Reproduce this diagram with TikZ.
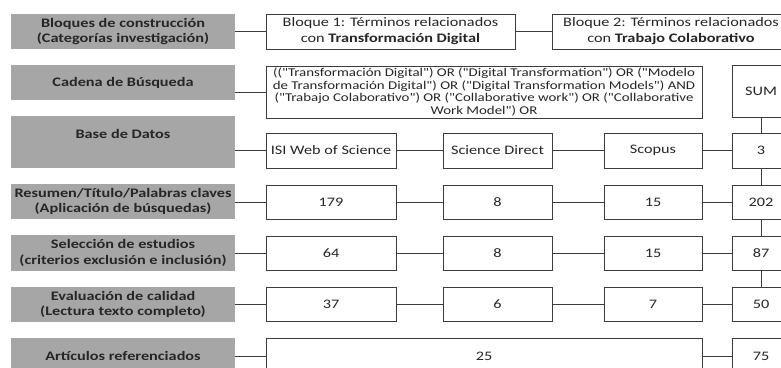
\documentclass[tikz,border=0pt]{standalone}
\usepackage{fontspec}
\setmainfont{Carlito}
\newfontfamily\wfont[FakeStretch=1.25]{Carlito}
\definecolor{grayfill}{HTML}{A6A6A6}
\definecolor{edge}{HTML}{3C3C3C}
\definecolor{txt}{HTML}{262626}
\begin{document}
\begin{tikzpicture}[x=1pt,y=-1pt,
  lab/.style={fill=grayfill, draw=none, inner sep=0pt, align=center, text=txt,
    font=\wfont\bfseries\fontsize{13}{15.5}\selectfont, minimum width=224pt},
  wbox/.style={draw=edge, line width=1pt, fill=white, inner sep=0pt, align=center, text=txt,
    font=\wfont\fontsize{13}{16}\selectfont},
  conn/.style={draw=edge, line width=1pt}]
\clip (0,0) rectangle (781,367);
\fill[white] (0,0) rectangle (781,367);
% left labels
\node[lab, minimum height=35pt] (g1) at (123,31.5) {Bloques de construcción\\(Categorías investigación)};
\node[lab, minimum height=35pt] (g2) at (123,82.5) {Cadena de Búsqueda};
\node[lab, minimum height=52pt] (g3) at (123,142) {Base de Datos\\[1pt]\mbox{}};
\node[lab, minimum height=35pt] (g4) at (123,201.5) {Resumen/Título/Palabras claves\\(Aplicación de búsquedas)};
\node[lab, minimum height=36pt] (g5) at (123,253) {Selección de estudios\\(criterios exclusión e inclusión)};
\node[lab, minimum height=35pt] (g6) at (123,304.5) {Evaluación de calidad\\(Lectura texto completo)};
\node[lab, minimum height=36pt] (g7) at (123,356) {Artículos referenciados};
% row 1
\node[wbox, minimum width=249pt, minimum height=35pt] (b1) at (390.5,31.5) {Bloque 1: Términos relacionados\\con \textbf{Transformación Digital}};
\node[wbox, minimum width=238pt, minimum height=35pt] (b2) at (671,31.5) {Bloque 2: Términos relacionados\\con \textbf{Trabajo Colaborativo}};
% row 2
\node[wbox, minimum width=436pt, minimum height=52pt, font=\wfont\fontsize{11.9}{12.4}\selectfont] (cad) at (484,92)
 {(("Transformación Digital") OR ("Digital Transformation") OR ("Modelo\\de Transformación Digital") OR ("Digital Transformation Models") AND\\("Trabajo Colaborativo") OR ("Collaborative work") OR ("Collaborative\\Work Model") OR};
\node[wbox, minimum width=58pt, minimum height=52pt] (sum) at (761,91) {SUM};
% row 3
\node[wbox, minimum width=130pt, minimum height=35pt] (isi) at (331,150.5) {ISI Web of Science};
\node[wbox, minimum width=109pt, minimum height=35pt] (sd) at (497.5,150.5) {Science Direct};
\node[wbox, minimum width=98pt, minimum height=35pt] (sc) at (653,150.5) {Scopus};
\node[wbox, minimum width=58pt, minimum height=35pt] (t3) at (761,150.5) {3};
% row 4
\node[wbox, minimum width=130pt, minimum height=34pt] (a4) at (331,202) {179};
\node[wbox, minimum width=109pt, minimum height=34pt] (b4) at (497.5,202) {8};
\node[wbox, minimum width=98pt, minimum height=34pt] (c4) at (653,202) {15};
\node[wbox, minimum width=58pt, minimum height=34pt] (d4) at (761,202) {202};
% row 5
\node[wbox, minimum width=130pt, minimum height=34pt] (a5) at (331,253) {64};
\node[wbox, minimum width=109pt, minimum height=34pt] (b5) at (497.5,253) {8};
\node[wbox, minimum width=98pt, minimum height=34pt] (c5) at (653,253) {15};
\node[wbox, minimum width=58pt, minimum height=34pt] (d5) at (761,253) {87};
% row 6
\node[wbox, minimum width=130pt, minimum height=34pt] (a6) at (331,304) {37};
\node[wbox, minimum width=109pt, minimum height=34pt] (b6) at (497.5,304) {6};
\node[wbox, minimum width=98pt, minimum height=34pt] (c6) at (653,304) {7};
\node[wbox, minimum width=58pt, minimum height=34pt] (d6) at (761,304) {50};
% row 7
\node[wbox, minimum width=436pt, minimum height=36pt] (a7) at (484,356) {25};
\node[wbox, minimum width=58pt, minimum height=36pt] (d7) at (761,356) {75};
% connectors
\draw[conn] (g1.east |- b1.west) -- (b1.west);
\draw[conn] (b1.east) -- (b2.west);
\draw[conn] (g2.east |- cad.west) -- (cad.west);
\draw[conn] (g3.east |- isi.west) -- (isi.west);
\draw[conn] (isi) -- (sd) (sd) -- (sc) (sc) -- (t3);
\draw[conn] (g4.east |- a4.west) -- (a4.west);
\draw[conn] (a4) -- (b4) (b4) -- (c4) (c4) -- (d4);
\draw[conn] (g5.east |- a5.west) -- (a5.west);
\draw[conn] (a5) -- (b5) (b5) -- (c5) (c5) -- (d5);
\draw[conn] (g6.east |- a6.west) -- (a6.west);
\draw[conn] (a6) -- (b6) (b6) -- (c6) (c6) -- (d6);
\draw[conn] (g7.east |- a7.west) -- (a7.west);
\draw[conn] (a7) -- (d7);
\draw[conn] (sum) -- (t3) (t3) -- (d4) (d4) -- (d5) (d5) -- (d6);
\end{tikzpicture}
\end{document}
